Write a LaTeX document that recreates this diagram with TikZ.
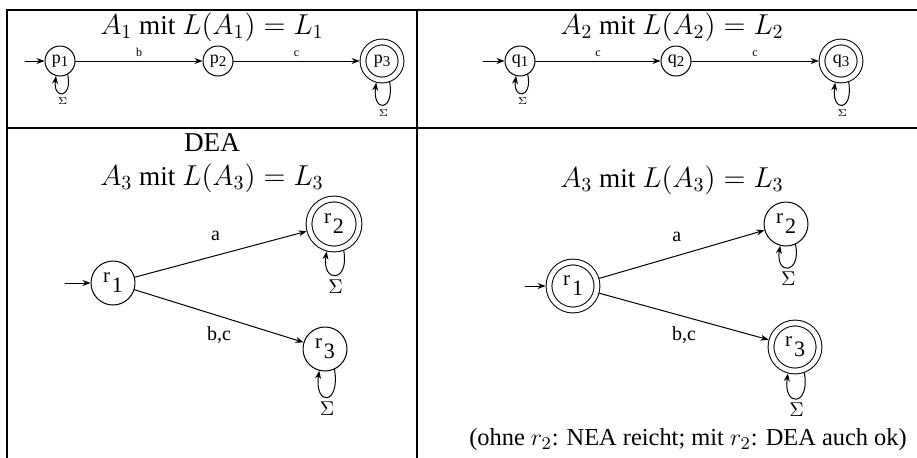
\documentclass[tikz,border=0pt]{standalone}
\usepackage[no-math]{fontspec}
\setmainfont{Liberation Serif}
\usepackage{amsmath}
\usetikzlibrary{arrows.meta}

% state labels
\newcommand{\pz}[2]{{\fontsize{9}{9}\selectfont #1}\raisebox{-1.5pt}{\fontsize{7.5}{8}\selectfont #2}}
\newcommand{\rz}[2]{{\fontsize{10.5}{11}\selectfont #1}\hspace{1pt}\raisebox{-5pt}{\fontsize{11}{12}\selectfont #2}}

\tikzset{
  zustand/.style={circle,draw,line width=0.5pt,minimum size=#1,inner sep=0pt},
  zustand/.default=15pt,
  endzustand/.style={zustand=#1,double,double distance=2.4pt,outer sep=1.7pt},
  endzustand/.default=19pt,
  kante/.style={->,line width=0.5pt},
  klein/.style={inner sep=0pt,font=\fontsize{6}{7}\selectfont},
  gross/.style={inner sep=0pt,font=\fontsize{10}{11}\selectfont},
  titel/.style={font=\fontsize{13.6}{15}\selectfont},
  rahmen/.style={line width=1.3pt,line cap=rect}
}

\begin{document}
\begin{tikzpicture}[x=0.5pt,y=-0.5pt,>={Stealth[length=4pt,width=3pt]},line cap=round,line join=round]
  \useasboundingbox (0,0) rectangle (917,457);

  % table
  \draw[rahmen] (7,10) -- (917,10);
  \draw[rahmen] (7,128) -- (917,128);
  \draw[rahmen] (7,10) -- (7,457);
  \draw[rahmen] (417,10) -- (417,457);

  % A_1
  \node[titel] (t1) at (212,27) {$A_1$ mit $L(A_1)=L_1$};
  \node[zustand] (p1) at (60,61) {\pz{p}{1}};
  \node[zustand] (p2) at (218,61) {\pz{p}{2}};
  \node[endzustand] (p3) at (382,61) {\pz{p}{3}};
  \coordinate (s1) at (25,61);
  \draw[kante] (s1) -- (p1);
  \draw[kante] (p1) -- node[klein,above=2pt] {b} (p2);
  \draw[kante] (p2) -- node[klein,above=2pt] {c} (p3);
  \draw[kante] (p1.-60) .. controls +(5,24) and +(-3,24) .. node[klein,below=2pt] {$\scriptstyle\Sigma$} (p1.-105);
  \draw[kante] (p3.-70) .. controls +(5,30) and +(-4,30) .. node[klein,below=2pt] {$\scriptstyle\Sigma$} (p3.-105);

  % A_2
  \node[titel] (t2) at (672,27) {$A_2$ mit $L(A_2)=L_2$};
  \node[zustand] (q1) at (520,61) {\pz{q}{1}};
  \node[zustand] (q2) at (676,61) {\pz{q}{2}};
  \node[endzustand] (q3) at (841,61) {\pz{q}{3}};
  \coordinate (s2) at (483,61);
  \draw[kante] (s2) -- (q1);
  \draw[kante] (q1) -- node[klein,above=2pt] {c} (q2);
  \draw[kante] (q2) -- node[klein,above=2pt] {c} (q3);
  \draw[kante] (q1.-60) .. controls +(5,24) and +(-3,24) .. node[klein,below=2pt] {$\scriptstyle\Sigma$} (q1.-105);
  \draw[kante] (q3.-70) .. controls +(5,30) and +(-4,30) .. node[klein,below=2pt] {$\scriptstyle\Sigma$} (q3.-105);

  % A_3 (DEA)
  \node[titel] (dea) at (212,143) {DEA};
  \node[titel] (t3) at (212,178) {$A_3$ mit $L(A_3)=L_3$};
  \node[zustand=22pt] (r1) at (113,283) {\rz{r}{1}};
  \node[endzustand=25pt] (r2) at (334,224) {\rz{r}{2}};
  \node[zustand=22pt] (r3) at (325,349) {\rz{r}{3}};
  \coordinate (s3) at (65,283);
  \draw[kante] (s3) -- (r1);
  \draw[kante] (r1) -- node[gross,pos=0.47,above=7pt] {a} (r2);
  \draw[kante] (r1) -- node[gross,pos=0.5,below=5pt] {b,c} (r3);
  \draw[kante] (r2.-70) .. controls +(6,32) and +(-5,32) .. node[gross,below=2pt] {$\Sigma$} (r2.-105);
  \draw[kante] (r3.-65) .. controls +(6,36) and +(-5,36) .. node[gross,below=2pt] {$\Sigma$} (r3.-105);

  % A_3 (NEA)
  \node[titel] (t4) at (672,180) {$A_3$ mit $L(A_3)=L_3$};
  \node[endzustand=24pt] (rr1) at (573,286) {\rz{r}{1}};
  \node[zustand=22pt] (rr2) at (786,224) {\rz{r}{2}};
  \node[endzustand=24pt] (rr3) at (795,347) {\rz{r}{3}};
  \coordinate (s4) at (525,286);
  \draw[kante] (s4) -- (rr1);
  \draw[kante] (rr1) -- node[gross,pos=0.47,above=7pt] {a} (rr2);
  \draw[kante] (rr1) -- node[gross,pos=0.5,below=5pt] {b,c} (rr3);
  \draw[kante] (rr2.-65) .. controls +(6,30) and +(-5,30) .. node[gross,below=2pt] {$\Sigma$} (rr2.-105);
  \draw[kante] (rr3.-70) .. controls +(6,34) and +(-5,34) .. node[gross,below=2pt] {$\Sigma$} (rr3.-105);
  \node[font=\fontsize{12.2}{13}\selectfont] (note) at (688,440) {(ohne $r_2$: NEA reicht; mit $r_2$: DEA auch ok)};
\end{tikzpicture}
\end{document}
